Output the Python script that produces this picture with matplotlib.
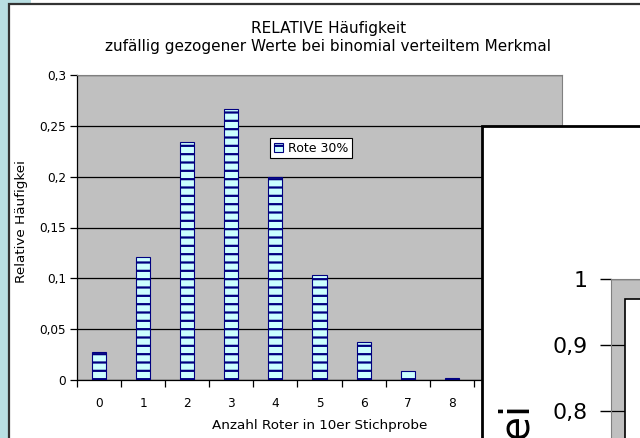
import numpy as np
import matplotlib.pyplot as plt
from matplotlib.patches import Rectangle

plt.rcParams['font.family'] = ['DejaVu Sans']
plt.rcParams['hatch.linewidth'] = 1.6

# data
anzahl = list(range(11))
rel_haeufigkeit = [0.028, 0.121, 0.234, 0.267, 0.200, 0.103, 0.037, 0.009, 0.002, 0.0001, 0.0]
y_ticks = [0, 0.05, 0.1, 0.15, 0.2, 0.25, 0.3]
y_labels = ['0', '0,05', '0,1', '0,15', '0,2', '0,25', '0,3']
serie = 'Rote 30%'

# second (overlapping) chart, only its upper left corner is visible
kum_wert = [0.97]
y2_ticks = [0.8, 0.9, 1.0]
y2_labels = ['0,8', '0,9', '1']

W, H = 640, 438
fig = plt.figure(figsize=(W / 100, H / 100), dpi=100)


def fx(px):
    return px / W


def fy(py):
    return 1 - py / H


# teal slide background at the left edge
fig.patches.append(Rectangle((0, 0), fx(8), 1, transform=fig.transFigure,
                             facecolor='#B9DFE3', edgecolor='none', zorder=0))
fig.patches.append(Rectangle((0, fy(4.5)), fx(31), fy(0) - fy(4.5), transform=fig.transFigure,
                             facecolor='#B9DFE3', edgecolor='none', zorder=0))
# frame of the chart object
fig.patches.append(Rectangle((fx(8.5), fy(500)), fx(700), fy(4.5) - fy(500), transform=fig.transFigure,
                             facecolor='white', edgecolor='#333333', linewidth=1.6, zorder=0.5))

ax = fig.add_axes([fx(77), fy(380), fx(562) - fx(77), fy(75) - fy(380)], zorder=1)
ax.set_facecolor('#C0C0C0')
ax.bar(anzahl, rel_haeufigkeit, width=0.32, color='#CCFFFF', edgecolor='#000080',
       hatch='--', linewidth=0.8, label=serie, zorder=3)
ax.set_xlim(-0.5, 10.5)
ax.set_ylim(0, 0.3)
ax.set_yticks(y_ticks)
ax.set_yticklabels(y_labels, fontsize=8.7)
ax.yaxis.grid(True, color='black', linewidth=0.9)
ax.set_axisbelow(True)
ax.set_xticks(np.arange(-0.5, 11, 1))
ax.set_xticklabels([])
ax.set_xticks(anzahl, minor=True)
ax.set_xticklabels([str(a) for a in anzahl], minor=True, fontsize=8.7)
ax.tick_params(axis='x', which='major', length=5, width=0.9, direction='out')
ax.tick_params(axis='x', which='minor', length=0, pad=12)
ax.tick_params(axis='y', length=5, width=0.9, pad=3)
for s in ['top', 'right']:
    ax.spines[s].set_color('#808080')
for s in ['left', 'bottom']:
    ax.spines[s].set_color('black')
    ax.spines[s].set_linewidth(0.9)

fig.text(fx(329), fy(29), 'RELATIVE Häufigkeit', ha='center', va='center', fontsize=11)
fig.text(fx(328), fy(47), 'zufällig gezogener Werte bei binomial verteiltem Merkmal',
         ha='center', va='center', fontsize=11)
fig.text(fx(320), fy(426), 'Anzahl Roter in 10er Stichprobe', ha='center', va='center', fontsize=9.7)
fig.text(fx(22), fy(222), 'Relative Häufigkei', ha='center', va='center', rotation=90, fontsize=9.7)

leg = ax.legend(loc='upper left', bbox_to_anchor=(fx(270), fy(138)), bbox_transform=fig.transFigure,
                borderaxespad=0, fancybox=False, edgecolor='black', framealpha=1,
                fontsize=9, handlelength=0.7, handleheight=0.7, handletextpad=0.4,
                borderpad=0.3)
leg.get_frame().set_linewidth(0.8)

# overlapping second chart
fig.patches.append(Rectangle((fx(482), fy(500)), fx(400), fy(125.5) - fy(500), transform=fig.transFigure,
                             facecolor='white', edgecolor='black', linewidth=2, zorder=5))
ax2 = fig.add_axes([fx(611), fy(477.5), fx(400), fy(279) - fy(477.5)], zorder=6)
ax2.set_facecolor('#C0C0C0')
ax2.set_ylim(0.7, 1.0)
ax2.bar([0], kum_wert, width=4, align='edge', color='white', edgecolor='black',
        linewidth=1.2, zorder=3)
ax2.set_xlim(-0.37, 10)
ax2.set_yticks(y2_ticks)
ax2.set_yticklabels(y2_labels, fontsize=15.8)
ax2.yaxis.grid(True, color='black', linewidth=0.9)
ax2.set_axisbelow(True)
ax2.set_xticks([])
ax2.tick_params(axis='y', length=8, width=1, pad=9)
ax2.spines['top'].set_color('#808080')
ax2.spines['left'].set_color('#808080')
fig.text(fx(519), fy(405), 'Relative Häufigkei', ha='center', va='top', rotation=90,
         fontsize=29, zorder=7)

fig.savefig('out.png', dpi=100)
